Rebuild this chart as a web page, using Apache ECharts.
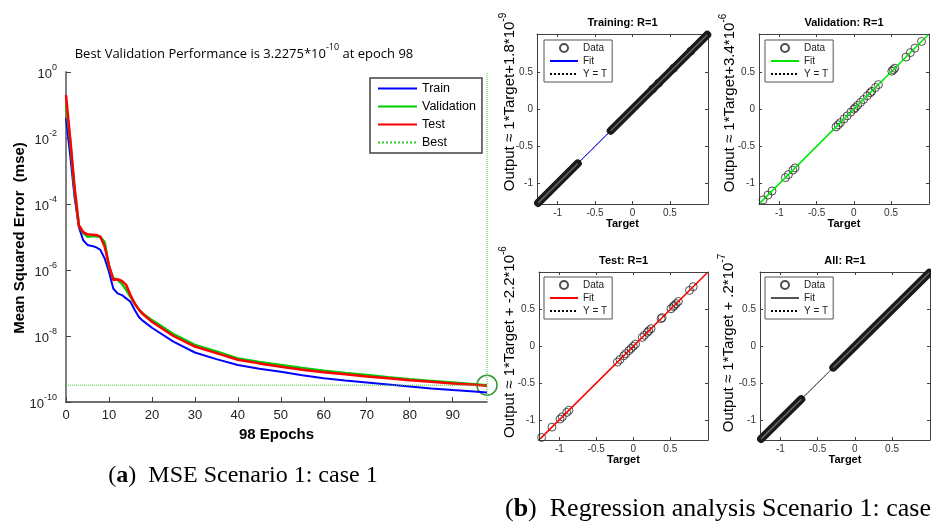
<!DOCTYPE html>
<html lang="en">
<head>
<meta charset="UTF-8" />
<title>MSE and regression</title>
<style>
  html, body { margin: 0; padding: 0; background: #fff; overflow: hidden; }
  #main { width: 931px; height: 530px; }
</style>
<script src="https://cdn.jsdelivr.net/npm/echarts@6/dist/echarts.min.js"></script>
</head>
<body>
<div id="main"></div>
<script>
  // ---- (a) performance curves, values are log10(mse)
  const epochs = [0, 1, 2, 3, 4, 5, 6, 7, 8, 9, 10, 11, 12, 13, 14, 15, 16, 17, 18, 20,
    25, 30, 35, 40, 45, 50, 55, 60, 65, 70, 75, 80, 85, 90, 95, 98];
  const trainLog = [-1.4, -2.55, -3.8, -4.7, -5.1, -5.24, -5.27, -5.31, -5.39, -5.65,
    -6.05, -6.56, -6.71, -6.76, -6.86, -6.96, -7.21, -7.43, -7.55, -7.75,
    -8.17, -8.5, -8.7, -8.88, -8.99, -9.08, -9.19, -9.28, -9.35, -9.41,
    -9.47, -9.53, -9.59, -9.64, -9.68, -9.71];
  const valLog = [-1.0, -2.1, -3.6, -4.65, -4.88, -4.99, -4.98, -4.98, -5.0, -5.15,
    -5.9, -6.25, -6.3, -6.42, -6.6, -6.81, -7.03, -7.2, -7.33, -7.52,
    -7.94, -8.27, -8.47, -8.68, -8.79, -8.88, -8.97, -9.05, -9.12, -9.18,
    -9.25, -9.31, -9.36, -9.41, -9.46, -9.491];
  const testLog = [-0.7, -2.06, -3.5, -4.65, -4.85, -4.92, -4.93, -4.94, -4.99, -5.29,
    -5.85, -6.3, -6.28, -6.33, -6.45, -6.76, -7.01, -7.21, -7.35, -7.57,
    -8.0, -8.32, -8.52, -8.72, -8.83, -8.93, -9.02, -9.1, -9.16, -9.23,
    -9.28, -9.34, -9.39, -9.44, -9.48, -9.51];
  const bestEpoch = 98;
  const bestPerf = 3.2275e-10;
  const epochTicks = [0, 10, 20, 30, 40, 50, 60, 70, 80, 90];
  const mseTicks = [1, 1e-2, 1e-4, 1e-6, 1e-8, 1e-10];

  // ---- (b) regression panels (output = target, R = 1)
  const regTicks = [-1, -0.5, 0, 0.5];
  const regRange = [-1.275, 1.01];
  const fitRange = [-1.26, 1.0];
  const trainBands = [[-1.26, -0.73], [-0.29, 1.0]];
  const trainExtra = [0.27, 0.35, 0.55, 0.78];
  const valTargets = [-1.22, -1.155, -1.10, -0.92, -0.88, -0.82, -0.79, -0.24, -0.21, -0.18,
    -0.13, -0.09, -0.04, 0, 0.02, 0.05, 0.09, 0.13, 0.18, 0.22, 0.24, 0.29, 0.33,
    0.51, 0.53, 0.55, 0.70, 0.76, 0.82, 0.91];
  const testTargets = [-1.24, -1.10, -0.99, -0.96, -0.90, -0.87, -0.215, -0.18, -0.13, -0.10,
    -0.06, -0.03, 0, 0.03, 0.12, 0.15, 0.19, 0.21, 0.24, 0.376, 0.39, 0.51, 0.54, 0.555,
    0.58, 0.61, 0.76, 0.81];
  const allBands = [[-1.26, -0.72], [-0.29, 1.0]];
  const allExtra = [];

  const panels = [
    { title: 'Training: R=1', eq: 'Output \u2248 1*Target+1.8*10', exp: '-9', fit: '#0000ff', fitW: 1, bands: trainBands, pts: trainExtra },
    { title: 'Validation: R=1', eq: 'Output \u2248 1*Target+3.4*10', exp: '-6', fit: '#00e600', fitW: 1.5, bands: [], pts: valTargets },
    { title: 'Test: R=1', eq: 'Output \u2248 1*Target + -2.2*10', exp: '-6', fit: '#ff0000', fitW: 1.5, bands: [], pts: testTargets },
    { title: 'All: R=1', eq: 'Output \u2248 1*Target + .2*10', exp: '-7', fit: '#555555', fitW: 1, bands: allBands, pts: allExtra }
  ];
  const boxes = [
    { left: 537, top: 34, width: 171, height: 170, labX: 508, labY: 102, legX: 544, legY: 40 },
    { left: 759, top: 34, width: 170, height: 170, labX: 728, labY: 103, legX: 765, legY: 40 },
    { left: 539, top: 272, width: 169, height: 168, labX: 508, labY: 342, legX: 544, legY: 277 },
    { left: 760, top: 272, width: 170, height: 168, labX: 727, labY: 343, legX: 765, legY: 277 }
  ];

  const sans = '"Liberation Sans", Arial, sans-serif';
  const toVal = v => Math.pow(10, v);
  const pair = (xs, ys) => xs.map((x, i) => [x, toVal(ys[i])]);
  // line legend entries: hide the marker ECharts puts on line icons
  const lineItem = name => ({ name: name, itemStyle: { opacity: 0 } });

  const grids = [{ left: 66, top: 72, width: 421, height: 330 }];
  const xAxes = [{
    gridIndex: 0, type: 'value', min: 0, max: 98,
    axisLine: { onZero: false, lineStyle: { color: '#404040', width: 1.5 } },
    axisTick: { inside: true, length: 5, customValues: epochTicks, lineStyle: { color: '#404040' } },
    axisLabel: { customValues: epochTicks, color: '#222', fontSize: 13, fontFamily: sans, margin: 7 },
    splitLine: { show: false },
    name: '98 Epochs', nameLocation: 'middle', nameGap: 23,
    nameTextStyle: { fontSize: 15, fontWeight: 'bold', color: '#000', fontFamily: sans }
  }];
  const yAxes = [{
    gridIndex: 0, type: 'log', logBase: 10, min: 1e-10, max: 1,
    axisLine: { onZero: false, lineStyle: { color: '#808080', width: 2 } },
    axisTick: { inside: true, length: 5, customValues: mseTicks, lineStyle: { color: '#404040' } },
    minorTick: { show: false },
    splitLine: { show: false },
    axisLabel: {
      customValues: mseTicks,
      margin: 9, color: '#222',
      formatter: v => '{b|10}{s|' + Math.round(Math.log10(v)) + '}',
      rich: {
        b: { fontSize: 13, fontFamily: sans, lineHeight: 18, verticalAlign: 'bottom', color: '#222' },
        s: { fontSize: 9, fontFamily: sans, lineHeight: 10, verticalAlign: 'top', color: '#222' }
      }
    }
  }];

  const series = [
    { name: 'Train', type: 'line', xAxisIndex: 0, yAxisIndex: 0, data: pair(epochs, trainLog),
      symbol: 'none', lineStyle: { color: '#0000ff', width: 2 }, itemStyle: { color: '#0000ff' } },
    { name: 'Validation', type: 'line', xAxisIndex: 0, yAxisIndex: 0, data: pair(epochs, valLog),
      symbol: 'none', lineStyle: { color: '#00cc00', width: 2.5 }, itemStyle: { color: '#00cc00' } },
    { name: 'Test', type: 'line', xAxisIndex: 0, yAxisIndex: 0, data: pair(epochs, testLog),
      symbol: 'none', lineStyle: { color: '#ff0000', width: 2.5 }, itemStyle: { color: '#ff0000' } },
    { name: 'Best', type: 'line', xAxisIndex: 0, yAxisIndex: 0, data: [[0, bestPerf], [bestEpoch, bestPerf]],
      symbol: 'none', lineStyle: { color: '#33cc33', width: 1, type: 'dotted' }, itemStyle: { color: '#33cc33' } },
    { name: 'bestEpochLine', type: 'line', xAxisIndex: 0, yAxisIndex: 0, data: [[bestEpoch, 1e-10], [bestEpoch, 1]],
      symbol: 'none', lineStyle: { color: '#33cc33', width: 1, type: 'dotted' } },
    { name: 'bestPoint', type: 'scatter', xAxisIndex: 0, yAxisIndex: 0, data: [[bestEpoch, bestPerf]],
      symbol: 'circle', symbolSize: 20, itemStyle: { color: 'rgba(0,0,0,0)', borderColor: '#007a00', borderWidth: 1.5 } }
  ];

  const legends = [{
    data: ['Train', 'Validation', 'Test', 'Best'].map(lineItem),
    left: 370, top: 78, orient: 'vertical', selectedMode: false,
    itemWidth: 39, itemHeight: 14, itemGap: 5, padding: [4, 6, 4, 7],
    borderColor: '#404040', borderWidth: 1.5, backgroundColor: '#fff',
    textStyle: { fontSize: 12.5, color: '#000', fontFamily: sans }
  }];

  const graphics = [
    { type: 'text', x: 244, y: 52, style: {
      text: '{m|Best Validation Performance is 3.2275*10}{s|-10}{m| at epoch 98}',
      align: 'center', verticalAlign: 'middle',
      rich: {
        m: { fontSize: 13, fontFamily: '"Open Sans", sans-serif', lineHeight: 18, verticalAlign: 'bottom', fill: '#000' },
        s: { fontSize: 9, fontFamily: '"Open Sans", sans-serif', lineHeight: 10, verticalAlign: 'top', fill: '#000' }
      } } },
    { type: 'text', x: 20, y: 238, rotation: Math.PI / 2, style: {
      text: 'Mean Squared Error  (mse)', font: 'bold 15px ' + sans,
      align: 'center', verticalAlign: 'middle', fill: '#000' } },
    { type: 'text', x: 243, y: 476, style: {
      text: '{n|(}{b|a}{n|)  MSE Scenario 1: case 1}', align: 'center', verticalAlign: 'middle',
      rich: {
        n: { fontSize: 24, fontFamily: '"Liberation Serif", serif', fill: '#000' },
        b: { fontSize: 24, fontWeight: 'bold', fontFamily: '"Liberation Serif", serif', fill: '#000' }
      } } },
    { type: 'text', x: 505, y: 509, style: {
      text: '{n|(}{b|b}{n|)  Regression analysis Scenario 1: case}', align: 'left', verticalAlign: 'middle',
      rich: {
        n: { fontSize: 26, fontFamily: '"Liberation Serif", serif', fill: '#000' },
        b: { fontSize: 26, fontWeight: 'bold', fontFamily: '"Liberation Serif", serif', fill: '#000' }
      } } }
  ];

  const regAxis = (gi, pos, showLabel, name) => ({
    gridIndex: gi, type: 'value', position: pos, min: regRange[0], max: regRange[1],
    splitLine: { show: false },
    axisLine: { show: true, onZero: false, lineStyle: { color: '#404040', width: 1 } },
    axisTick: { show: true, inside: true, length: 3, customValues: regTicks, lineStyle: { color: '#404040' } },
    axisLabel: { show: showLabel, customValues: regTicks, fontSize: 10, color: '#333', margin: 4, fontFamily: sans },
    name: name || '', nameLocation: 'middle', nameGap: 14,
    nameTextStyle: { fontSize: 11, fontWeight: 'bold', color: '#000', fontFamily: sans }
  });

  panels.forEach((p, i) => {
    const b = boxes[i];
    const gi = i + 1;
    grids.push({ left: b.left, top: b.top, width: b.width, height: b.height });
    const xi = xAxes.length, yi = yAxes.length;
    xAxes.push(regAxis(gi, 'bottom', true, 'Target'), regAxis(gi, 'top', false));
    yAxes.push(regAxis(gi, 'left', true), regAxis(gi, 'right', false));
    const tag = '#' + i;
    series.push({ name: 'Y = T' + tag, type: 'line', xAxisIndex: xi, yAxisIndex: yi,
      data: [[regRange[0], regRange[0]], [regRange[1], regRange[1]]], symbol: 'none',
      lineStyle: { color: '#000', width: 1, type: 'dotted' }, itemStyle: { color: '#000' } });
    series.push({ name: 'Fit' + tag, type: 'line', xAxisIndex: xi, yAxisIndex: yi,
      data: [[fitRange[0], fitRange[0]], [fitRange[1], fitRange[1]]], symbol: 'none',
      lineStyle: { color: p.fit, width: p.fitW }, itemStyle: { color: p.fit } });
    p.bands.forEach(seg => {
      series.push({ type: 'line', xAxisIndex: xi, yAxisIndex: yi, silent: true, symbol: 'none',
        data: [[seg[0], seg[0]], [seg[1], seg[1]]], lineStyle: { color: '#1a1a1a', width: 8, cap: 'round' } });
      series.push({ type: 'line', xAxisIndex: xi, yAxisIndex: yi, silent: true, symbol: 'none',
        data: [[seg[0], seg[0]], [seg[1], seg[1]]], lineStyle: { color: '#666', width: 1.5 } });
    });
    series.push({ name: 'Data' + tag, type: 'scatter', xAxisIndex: xi, yAxisIndex: yi,
      data: p.pts.map(t => [t, t]), symbol: 'circle', symbolSize: 8,
      itemStyle: { color: 'rgba(0,0,0,0)', borderColor: '#222', borderWidth: 1 } });
    legends.push({
      data: ['Data' + tag, lineItem('Fit' + tag), lineItem('Y = T' + tag)],
      left: b.legX, top: b.legY, orient: 'vertical', selectedMode: false,
      itemWidth: 28, itemHeight: 8, itemGap: 1, padding: [2, 5, 2, 5],
      borderColor: '#555', borderWidth: 1, backgroundColor: '#fff',
      formatter: n => n.split('#')[0],
      textStyle: { fontSize: 10, lineHeight: 12, color: '#222', fontFamily: sans }
    });
    graphics.push({ type: 'text', x: b.left + b.width / 2, y: b.top - 11, style: {
      text: p.title, font: 'bold 11px ' + sans, align: 'center', verticalAlign: 'middle', fill: '#000' } });
    graphics.push({ type: 'text', x: b.labX, y: b.labY, rotation: Math.PI / 2, style: {
      text: '{m|' + p.eq + '}{s|' + p.exp + '}', align: 'center', verticalAlign: 'middle',
      rich: {
        m: { fontSize: 15, fontFamily: sans, lineHeight: 19, verticalAlign: 'bottom', fill: '#000' },
        s: { fontSize: 10, fontFamily: sans, lineHeight: 10, verticalAlign: 'top', fill: '#000' }
      } } });
  });

  const chart = echarts.init(document.getElementById('main'));
  chart.setOption({
    animation: false,
    backgroundColor: '#fff',
    grid: grids,
    xAxis: xAxes,
    yAxis: yAxes,
    legend: legends,
    series: series,
    graphic: graphics
  });
</script>
</body>
</html>
